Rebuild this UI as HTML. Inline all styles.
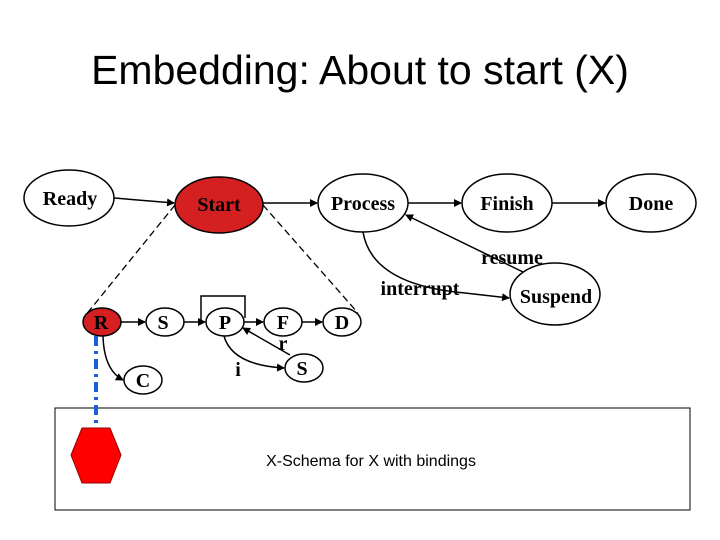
<!DOCTYPE html>
<html><head><style>body{margin:0;background:#fff}svg{display:block}</style></head><body>
<svg width="720" height="540" viewBox="0 0 720 540" xmlns="http://www.w3.org/2000/svg">
<defs><marker id="a" markerWidth="8" markerHeight="8" refX="7" refY="4" orient="auto" markerUnits="userSpaceOnUse"><path d="M0,0L8,4L0,8z" fill="#000"/></marker></defs>
<text x="360" y="84" font-family="Liberation Sans, sans-serif" font-size="41" text-anchor="middle">Embedding: About to start (X)</text>
<g stroke="#000" stroke-width="1.5">
<ellipse cx="69" cy="198" rx="45" ry="28" fill="#fff"/>
<ellipse cx="219" cy="205" rx="44" ry="28" fill="#d42020"/>
<ellipse cx="363" cy="203" rx="45" ry="29" fill="#fff"/>
<ellipse cx="507" cy="203" rx="45" ry="29" fill="#fff"/>
<ellipse cx="651" cy="203" rx="45" ry="29" fill="#fff"/>
<ellipse cx="555" cy="294" rx="45" ry="31" fill="#fff"/>
<ellipse cx="102" cy="322" rx="19" ry="14" fill="#d42020"/>
<ellipse cx="165" cy="322" rx="19" ry="14" fill="#fff"/>
<ellipse cx="225" cy="322" rx="19" ry="14" fill="#fff"/>
<ellipse cx="283" cy="322" rx="19" ry="14" fill="#fff"/>
<ellipse cx="342" cy="322" rx="19" ry="14" fill="#fff"/>
<ellipse cx="304" cy="368" rx="19" ry="14" fill="#fff"/>
<ellipse cx="143" cy="380" rx="19" ry="14" fill="#fff"/>
</g>
<g stroke="#000" stroke-width="1.5" fill="none">
<line x1="114" y1="198" x2="174" y2="203" marker-end="url(#a)"/>
<line x1="263" y1="203" x2="317" y2="203" marker-end="url(#a)"/>
<line x1="408" y1="203" x2="461" y2="203" marker-end="url(#a)"/>
<line x1="552" y1="203" x2="605" y2="203" marker-end="url(#a)"/>
<line x1="523" y1="272" x2="406" y2="215" marker-end="url(#a)"/>
<path d="M363 232 Q372 285 465 293 L509 298" marker-end="url(#a)"/>
<line x1="121" y1="322" x2="145" y2="322" marker-end="url(#a)"/>
<line x1="184" y1="322" x2="205" y2="322" marker-end="url(#a)"/>
<line x1="244" y1="322" x2="263" y2="322" marker-end="url(#a)"/>
<line x1="302" y1="322" x2="322" y2="322" marker-end="url(#a)"/>
<path d="M201 322 L201 296 L245 296 L245 318"/>
<path d="M103 336 Q104 370 123 380" marker-end="url(#a)"/>
<path d="M224 336 Q232 365 284 368" marker-end="url(#a)"/>
<line x1="290" y1="355" x2="243" y2="328" marker-end="url(#a)"/>
<rect x="55" y="408" width="635" height="102" stroke-width="1"/>
</g>
<g stroke="#000" stroke-width="1.3" stroke-dasharray="7,4" fill="none">
<line x1="175" y1="205" x2="85" y2="316"/>
<line x1="263" y1="205" x2="358" y2="313"/>
</g>
<line x1="96" y1="336" x2="96" y2="428" stroke="#1a5fd8" stroke-width="4" stroke-dasharray="10,5,3,5"/>
<polygon points="82,428 110,428 121,455 110,483 82,483 71,455" fill="#f00" stroke="#900" stroke-width="1"/>
<g font-family="Liberation Serif, serif" font-weight="bold" font-size="20" text-anchor="middle">
<text x="70" y="205">Ready</text>
<text x="219" y="211">Start</text>
<text x="363" y="210">Process</text>
<text x="507" y="210">Finish</text>
<text x="651" y="210">Done</text>
<text x="556" y="303">Suspend</text>
<text x="512" y="264">resume</text>
<text x="420" y="295">interrupt</text>
<text x="101" y="329">R</text>
<text x="163" y="329">S</text>
<text x="225" y="329">P</text>
<text x="283" y="329">F</text>
<text x="342" y="329">D</text>
<text x="302" y="375">S</text>
<text x="143" y="387">C</text>
<text x="238" y="376">i</text>
<text x="283" y="350">r</text>
</g>
<text x="371" y="466" font-family="Liberation Sans, sans-serif" font-size="16" text-anchor="middle">X-Schema for X with  bindings</text>
</svg>
</body></html>
